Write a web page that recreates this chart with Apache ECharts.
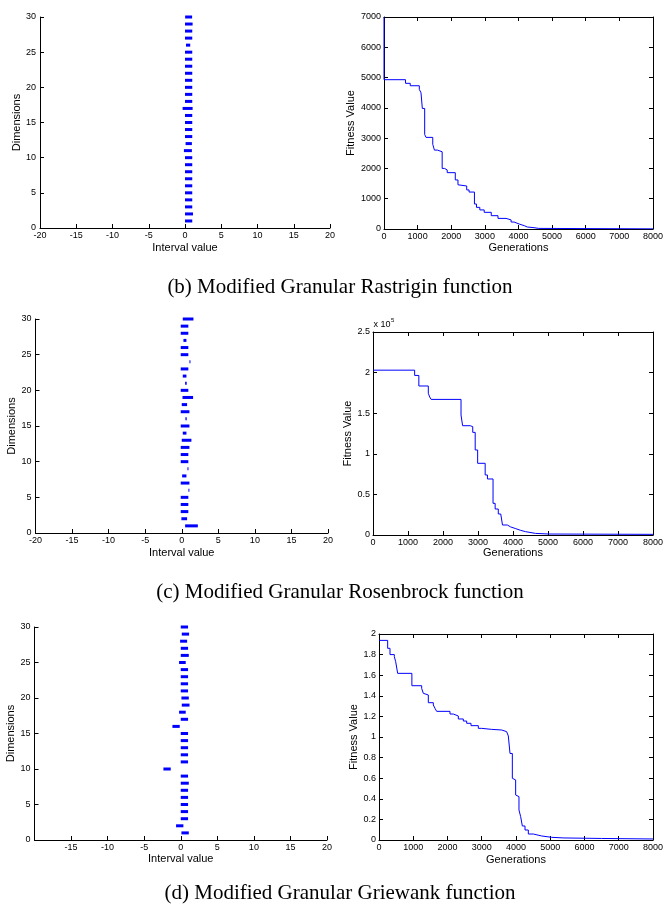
<!DOCTYPE html>
<html>
<head>
<meta charset="utf-8">
<script src="https://cdn.jsdelivr.net/npm/echarts@6/dist/echarts.min.js"></script>
<style>
html,body{margin:0;padding:0;background:#fff;}
#chart{width:666px;height:907px;}
</style>
</head>
<body>
<div id="chart"></div>
<script>
// ---------- data ----------
const dims = [1,2,3,4,5,6,7,8,9,10,11,12,13,14,15,16,17,18,19,20,21,22,23,24,25,26,27,28,29,30];

// (b) Rastrigin intervals
const rastLo = [0, 0, 0, 0, 0, 0, 0, 0, 0, 0, -0.15, 0.08, 0, 0, 0, 0, -0.33, 0, 0, 0, 0, 0, 0, 0, 0, 0.14, 0, 0, 0, 0.02];
const rastHi = [1.0, 1.1, 1.0, 1.0, 1.0, 1.0, 1.0, 1.0, 1.0, 1.0, 0.95, 0.95, 1.0, 1.0, 1.0, 1.0, 1.05, 1.0, 1.0, 1.0, 1.0, 1.0, 1.0, 1.0, 1.0, 0.72, 1.0, 1.0, 1.05, 0.98];

// (c) Rosenbrock intervals
const rosLo = [0.46, -0.05, -0.14, -0.14, -0.14, 0.91, -0.14, 0.05, 0.78, -0.14, -0.14, -0.14, 0.0, 0.14, -0.14, 0.5, -0.14, 0.0, 0.1, -0.14, 0.46, 0.14, -0.14, 1.05, -0.14, -0.14, 0.23, -0.14, -0.14, 0.14];
const rosHi = [2.2, 0.73, 0.9, 0.9, 0.9, 1.0, 1.05, 0.64, 0.87, 0.9, 0.9, 1.05, 1.32, 0.64, 1.05, 0.68, 1.05, 0.73, 1.55, 0.9, 0.68, 0.64, 0.9, 1.19, 0.9, 0.9, 0.64, 0.9, 0.9, 1.6];

// (d) Griewank intervals
const griLo = [0.09, -0.64, 0, 0, 0, 0, 0, 0, 0, -2.37, 0, 0, 0, 0, 0, -1.14, 0, -0.23, 0.14, 0.09, 0, 0, 0, 0, -0.23, 0, 0, -0.09, 0.14, 0];
const griHi = [1.1, 0.36, 1.0, 1.0, 1.0, 1.0, 1.0, 1.1, 1.0, -1.37, 1.0, 1.0, 1.0, 1.0, 1.0, -0.14, 1.0, 0.68, 1.2, 1.1, 1.0, 1.0, 1.0, 1.0, 0.68, 1.1, 1.0, 0.87, 1.14, 1.0];

// convergence curves (value holds from generation i until next generation)
const rastGen = [0, 0, 640, 780, 1050, 1100, 1140, 1210, 1250, 1450, 1500, 1590, 1730, 1800, 1880, 2120, 2200, 2250, 2460, 2530, 2690, 2750, 2850, 2980, 3190, 3390, 3630, 3780, 3870, 4020, 4170, 4260, 4460, 4600, 8000];
const rastVal = [7000, 4930, 4810, 4730, 4610, 4500, 3980, 3120, 3025, 2795, 2605, 2550, 2000, 1950, 1860, 1620, 1460, 1420, 1290, 1220, 825, 715, 630, 550, 440, 350, 300, 230, 165, 110, 66, 44, 20, 5, 5];

const rosGen = [0, 1190, 1310, 1580, 1620, 1660, 2515, 2560, 2780, 2850, 2920, 2990, 3205, 3270, 3430, 3490, 3580, 3650, 3700, 3840, 3930, 4080, 4220, 4360, 4640, 5020, 8000];
const rosVal = [203000, 196500, 183500, 174500, 170000, 167000, 147800, 134600, 133400, 126400, 104700, 88300, 73900, 69000, 39000, 32000, 25900, 23800, 12300, 10000, 7800, 5700, 4100, 2000, 1200, 800, 500];

const griGen = [0, 253, 321, 448, 487, 545, 960, 1246, 1294, 1343, 1440, 1586, 1635, 1684, 2073, 2170, 2316, 2462, 2560, 2686, 2900, 2997, 3290, 3582, 3727, 3776, 3825, 3893, 3951, 3990, 4048, 4087, 4136, 4185, 4263, 4360, 4506, 4750, 5040, 5400, 6500, 8000];
const griVal = [1.938, 1.861, 1.80, 1.78, 1.731, 1.618, 1.498, 1.472, 1.424, 1.408, 1.333, 1.311, 1.278, 1.249, 1.223, 1.204, 1.175, 1.155, 1.133, 1.11, 1.084, 1.074, 1.068, 1.052, 1.036, 1.01, 0.84, 0.599, 0.583, 0.437, 0.421, 0.291, 0.227, 0.136, 0.097, 0.058, 0.039, 0.026, 0.02, 0.015, 0.01, 0.01];

const captions = ['(b) Modified Granular Rastrigin function', '(c) Modified Granular Rosenbrock function', '(d) Modified Granular Griewank function'];

// ---------- layout ----------
const SANS = 'Liberation Sans, Arial, sans-serif';
const SERIF = 'Liberation Serif, Times New Roman, serif';
const BLUE = '#0000ff';

const grids = [
  {left: 40, top: 17, width: 290, height: 211},
  {left: 384, top: 17, width: 274, height: 212},
  {left: 35.5, top: 319, width: 292.5, height: 214},
  {left: 373, top: 332, width: 282, height: 203},
  {left: 34.5, top: 627, width: 292.5, height: 213},
  {left: 379, top: 634, width: 274, height: 206}
];

function axis(o) {
  return {
    type: 'value', gridIndex: o.grid, position: o.position,
    min: o.min, max: o.max, interval: o.interval,
    axisLine: {show: true, onZero: false, lineStyle: {color: '#000', width: 1}},
    axisTick: {show: true, inside: true, length: 4, lineStyle: {color: '#000', width: 1}},
    axisLabel: {show: o.labels !== false, margin: o.margin || 3, fontSize: 9, color: '#000', fontFamily: SANS,
      showMinLabel: true, showMaxLabel: true,
      formatter: o.formatter || (v => String(v))},
    splitLine: {show: false},
    name: o.name || '', nameLocation: 'middle', nameGap: o.nameGap || 14,
    nameTextStyle: {fontSize: 11, color: '#000', fontFamily: SANS}
  };
}

const xAxes = [], yAxes = [], series = [];

function intervalPlot(g, lo, hi, nameGapX, hideMin) {
  xAxes.push(axis({grid: g, position: 'bottom', min: -20, max: 20, interval: 5, name: 'Interval value', nameGap: nameGapX,
    margin: 3, formatter: v => (hideMin && v === -20) ? '' : String(v)}));
  yAxes.push(axis({grid: g, position: 'left', min: 0, max: 30, interval: 5, name: 'Dimensions', nameGap: 17, margin: 4}));
  const xi = xAxes.length - 1, yi = yAxes.length - 1;
  series.push({
    type: 'custom', xAxisIndex: xi, yAxisIndex: yi, silent: true, clip: false,
    encode: {x: [1, 2], y: 0},
    data: dims.map((d, k) => [d, lo[k], hi[k]]),
    renderItem: function (params, api) {
      const a = api.coord([api.value(1), api.value(0)]);
      const b = api.coord([api.value(2), api.value(0)]);
      return {type: 'rect', shape: {x: a[0], y: a[1] - 1.5, width: Math.max(b[0] - a[0], 1), height: 3},
        style: {fill: BLUE}};
    }
  });
}

function curvePlot(g, gens, vals, o) {
  xAxes.push(axis({grid: g, position: 'bottom', min: 0, max: 8000, interval: 1000, name: 'Generations', nameGap: o.nameGapX, margin: 3}));
  const xi = xAxes.length - 1;
  xAxes.push(axis({grid: g, position: 'top', min: 0, max: 8000, interval: 1000, labels: false}));
  yAxes.push(axis({grid: g, position: 'left', min: 0, max: o.ymax, interval: o.yint, name: 'Fitness Value', nameGap: o.nameGapY, margin: 3, formatter: o.fmt}));
  const yi = yAxes.length - 1;
  yAxes.push(axis({grid: g, position: 'right', min: 0, max: o.ymax, interval: o.yint, labels: false}));
  series.push({
    type: 'line', step: 'end', xAxisIndex: xi, yAxisIndex: yi, symbol: 'none', silent: true,
    lineStyle: {color: BLUE, width: 1},
    data: gens.map((x, k) => [x, vals[k]])
  });
}

intervalPlot(0, rastLo, rastHi, 14.5, false);
curvePlot(1, rastGen, rastVal, {ymax: 7000, yint: 1000, nameGapX: 13.5, nameGapY: 28});
intervalPlot(2, rosLo, rosHi, 14.5, false);
curvePlot(3, rosGen, rosVal, {ymax: 250000, yint: 50000, nameGapX: 10, nameGapY: 20,
  fmt: v => String(Math.round(v / 1e4) / 10)});
intervalPlot(4, griLo, griHi, 13.5, true);
curvePlot(5, griGen, griVal, {ymax: 2, yint: 0.2, nameGapX: 14.5, nameGapY: 20,
  fmt: v => String(Math.round(v * 10) / 10)});

const captionY = [287, 592, 893];
const graphic = captions.map((t, i) => ({
  type: 'text', x: 340, y: captionY[i],
  style: {text: t, font: '21px ' + SERIF, fill: '#000', textAlign: 'center', textVerticalAlign: 'middle'}
}));
graphic.push({type: 'text', x: 373.5, y: 325, style: {text: 'x 10', font: '9px ' + SANS, fill: '#000', textVerticalAlign: 'middle'}});
graphic.push({type: 'text', x: 391, y: 320, style: {text: '5', font: '6px ' + SANS, fill: '#000', textVerticalAlign: 'middle'}});

const chart = echarts.init(document.getElementById('chart'), null, {renderer: 'canvas'});
chart.setOption({
  animation: false,
  backgroundColor: '#fff',
  grid: grids,
  xAxis: xAxes,
  yAxis: yAxes,
  series: series,
  graphic: graphic
});
</script>
</body>
</html>
